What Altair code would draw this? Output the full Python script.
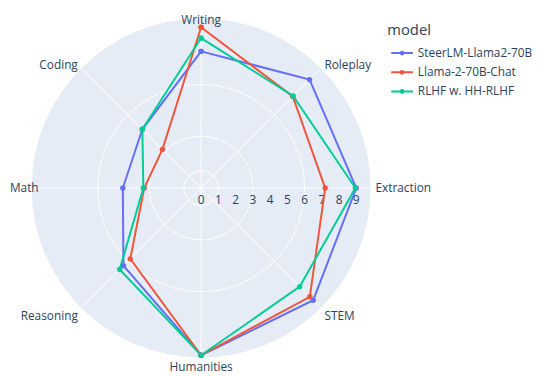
import altair as alt
import pandas as pd
import numpy as np

# ---- data ----
categories = ["Writing", "Roleplay", "Extraction", "STEM", "Humanities", "Reasoning", "Math", "Coding"]
models = ["SteerLM-Llama2-70B", "Llama-2-70B-Chat", "RLHF w. HH-RLHF"]
steerlm = [7.93, 8.90, 9.00, 9.20, 9.70, 6.37, 4.54, 4.82]
llama = [9.33, 7.52, 7.20, 8.92, 9.70, 5.81, 3.30, 3.17]
rlhf = [8.70, 7.55, 8.95, 8.09, 9.70, 6.68, 3.35, 4.82]
radial_ticks = [0, 1, 2, 3, 4, 5, 6, 7, 8, 9]
grid_levels = [1, 2, 3, 4, 5, 6, 7, 8, 9]
colors = ["#636efa", "#EF553B", "#00cc96"]

RMAX = 9.83      # radial axis range max
R_PX = 172       # polar radius in pixels
TXT = "#2a3f5f"
FONT = "Open Sans"
N = len(categories)

# ---- tables built from the arrays ----
rows = []
for m, vals in zip(models, [steerlm, llama, rlhf]):
    for i in range(N + 1):
        j = i % N
        a = 2 * np.pi * j / N
        rows.append(dict(model=m, category=categories[j], idx=i, r=vals[j],
                         x=vals[j] * np.sin(a), y=vals[j] * np.cos(a)))
traces = pd.DataFrame(rows)

spokes = pd.DataFrame({
    "category": categories,
    "x0": 0.0, "y0": 0.0,
    "x1": [RMAX * np.sin(2 * np.pi * j / N) for j in range(N)],
    "y1": [RMAX * np.cos(2 * np.pi * j / N) for j in range(N)],
})
LABEL_R = RMAX * (R_PX + 5) / R_PX
labels = pd.DataFrame({
    "category": categories,
    "x": [LABEL_R * np.sin(2 * np.pi * j / N) for j in range(N)],
    "y": [LABEL_R * np.cos(2 * np.pi * j / N) for j in range(N)],
})
ticks = pd.DataFrame({"k": radial_ticks, "y": 0.0})
grid = pd.DataFrame({"r": grid_levels})
disk = pd.DataFrame({"r": [RMAX]})

xs = alt.Scale(domain=[-RMAX, RMAX], nice=False, zero=False)
ys = alt.Scale(domain=[-RMAX, RMAX], nice=False, zero=False)
rs = alt.Scale(type="linear", domain=[0, RMAX], range=[0, R_PX], zero=True, nice=False)

bg = alt.Chart(disk).mark_arc(theta=0, theta2=2 * np.pi, color="#E5ECF6").encode(
    radius=alt.Radius("r:Q", scale=rs))

circles = alt.Chart(grid).mark_arc(theta=0, theta2=2 * np.pi, filled=False, color="white",
                                   strokeWidth=1, strokeDash=[3, 2], opacity=1).encode(
    radius=alt.Radius("r:Q", scale=rs))

spoke = alt.Chart(spokes).mark_rule(color="white", strokeWidth=1).encode(
    x=alt.X("x0:Q", scale=xs, axis=None), y=alt.Y("y0:Q", scale=ys, axis=None),
    x2="x1:Q", y2="y1:Q")

tick_txt = alt.Chart(ticks).mark_text(dy=12, fontSize=12, font=FONT, color=TXT).encode(
    x=alt.X("k:Q", scale=xs, axis=None), y=alt.Y("y:Q", scale=ys, axis=None),
    text="k:Q")

LEG_PATH = "M-1,0H1M0.13,0A0.13,0.13,0,1,1,-0.13,0A0.13,0.13,0,1,1,0.13,0"
color = alt.Color("model:N", sort=models,
                  scale=alt.Scale(domain=models, range=colors),
                  legend=alt.Legend(title="model", orient="none", legendX=361, legendY=5,
                                    symbolType=LEG_PATH, symbolSize=484, symbolStrokeWidth=2,
                                    symbolOffset=3,
                                    labelFontSize=12, titleFontSize=15, labelFont=FONT,
                                    titleFont=FONT, labelColor=TXT, titleColor=TXT,
                                    titleFontWeight="normal", padding=0, labelOffset=4,
                                    rowPadding=1.5, titlePadding=3))

lines = alt.Chart(traces).mark_line(strokeWidth=2).encode(
    x=alt.X("x:Q", scale=xs, axis=None), y=alt.Y("y:Q", scale=ys, axis=None),
    color=color, order=alt.Order("idx:Q"))

points = alt.Chart(traces).mark_point(filled=True, size=30, opacity=1, shape="circle").encode(
    x=alt.X("x:Q", scale=xs, axis=None), y=alt.Y("y:Q", scale=ys, axis=None),
    color=alt.Color("model:N", sort=models, scale=alt.Scale(domain=models, range=colors), legend=None))


def label_layer(cats, align, baseline, dx=0, dy=0):
    return alt.Chart(labels).transform_filter(
        alt.FieldOneOfPredicate(field="category", oneOf=cats)
    ).mark_text(align=align, baseline=baseline, dx=dx, dy=dy, fontSize=12, font=FONT, color=TXT).encode(
        x=alt.X("x:Q", scale=xs, axis=None), y=alt.Y("y:Q", scale=ys, axis=None),
        text="category:N")


lab = [
    label_layer(["Writing"], "center", "alphabetic", dy=10),
    label_layer(["Roleplay", "Extraction"], "left", "middle"),
    label_layer(["STEM"], "left", "top"),
    label_layer(["Humanities"], "center", "top"),
    label_layer(["Reasoning"], "right", "top"),
    label_layer(["Coding"], "right", "middle"),
    label_layer(["Math"], "left", "middle", dx=-17),
]

chart = alt.layer(bg, circles, spoke, tick_txt, lines, points, *lab).properties(
    width=2 * R_PX, height=2 * R_PX,
    padding={"left": 24, "top": 8, "right": 172, "bottom": 16},
    autosize=alt.AutoSizeParams(type="none"),
).configure_view(stroke=None)

chart.save("out.html", embed_options={"renderer": "svg", "actions": False})
